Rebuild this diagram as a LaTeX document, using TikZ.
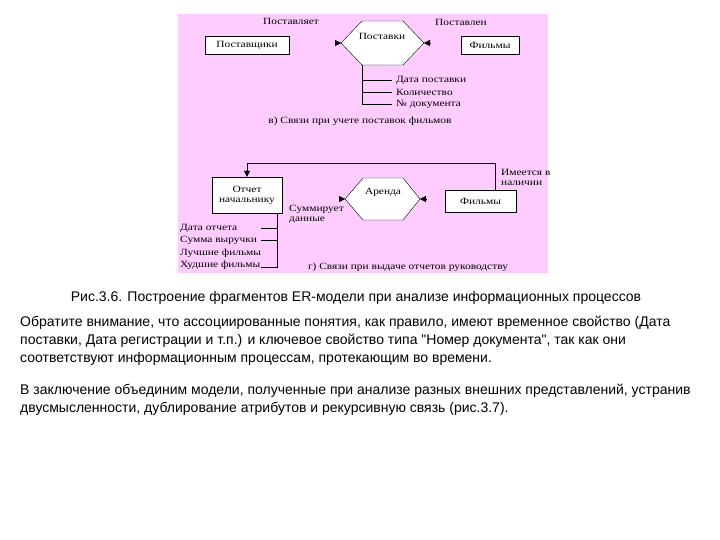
\documentclass[tikz,border=0pt]{standalone}
\usepackage{fontspec}
\setmainfont{Liberation Serif}
\newfontfamily\diafont[FakeStretch=1.2]{Liberation Serif}
\newfontfamily\bodyfont{Liberation Sans}
\definecolor{slidePink}{RGB}{255,204,255}
\usepackage{tikz}
\usetikzlibrary{arrows.meta,positioning,calc}

\begin{document}
\begin{tikzpicture}[x=1pt, y=-1pt,
        every node/.append style={font=\diafont\fontsize{9.5}{10}\selectfont, inner sep=0pt},
        entity/.style={draw, fill=white, align=center},
        lbl/.style={anchor=west, align=left},
        body/.style={anchor=west, font=\bodyfont\fontsize{14}{16}\selectfont},
        arr/.style={-{Triangle[length=6pt,width=6pt]}},
        line/.style={thin}
      ]
        \useasboundingbox (0,0) rectangle (720,540);
        % Pink picture area
        \fill[slidePink] (178,14) rectangle (548,273);

        % Fragment (v): supplies
        \node[entity, minimum width=84pt, minimum height=18pt] (sup) at (247,45) {Поставщики};
        \node[entity, minimum width=58pt, minimum height=18pt] (films1) at (490,45) {Фильмы};
        \coordinate (p1w) at (341,43);
        \coordinate (p1e) at (424,43);
        \coordinate (p1sw) at (362,65);
        \draw[line, fill=white] (p1w) -- (362,21) -- (403,21) -- (p1e) -- (403,65) -- (p1sw) -- cycle;
        \node (supply) at (382,36) {Поставки};
        \coordinate (p1wa) at (335,43);
        \coordinate (p1ea) at (430,43);
        \draw[arr] (p1wa) -- (p1w);
        \draw[arr] (p1ea) -- (p1e);
        \node (rel1) at (291,21) {Поставляет};
        \node (rel2) at (461,22) {Поставлен};
        % attributes of the supply
        \node[lbl] (a1) at (396,80) {Дата поставки};
        \node[lbl] (a2) at (396,92) {Количество};
        \node[lbl] (a3) at (396,104) {№ документа};
        \draw[line] (p1sw) |- ($(a3.west)+(-4,0)$);
        \draw[line] (p1sw |- a1) -- ($(a1.west)+(-4,0)$);
        \draw[line] (p1sw |- a2) -- ($(a2.west)+(-4,0)$);
        \node (capv) at (360,121) {в) Связи при учете поставок фильмов};

        % Fragment (g): reports
        \node[entity, minimum width=70pt, minimum height=36pt] (rep) at (247,195) {Отчет\\начальнику};
        \node[entity, minimum width=71pt, minimum height=22pt] (films2) at (480.5,201) {Фильмы};
        \coordinate (p2w) at (345,199);
        \coordinate (p2e) at (420,199);
        \draw[line, fill=white] (p2w) -- (363,178) -- (403,178) -- (p2e) -- (403,220) -- (363,220) -- cycle;
        \node (rent) at (383,192) {Аренда};
        \coordinate (p2wa) at (339,199);
        \coordinate (p2ea) at (426,199);
        \draw[arr] (p2wa) -- (p2w);
        \draw[arr] (p2ea) -- (p2e);
        \coordinate (turn) at (495,163);
        \draw[line, arr] (turn |- films2.north) -- (turn) -| (rep.north);
        \node[lbl] (rel3) at (501,177) {Имеется в\\наличии};
        \node[lbl] (rel4) at (289,214) {Суммирует\\данные};
        % attributes of the report
        \coordinate (rs) at (277,213);
        \node[lbl] (b1) at (180,228) {Дата отчета};
        \node[lbl] (b2) at (180,240) {Сумма выручки};
        \node[lbl] (b3) at (180,253) {Лучшие фильмы};
        \node[lbl] (b4) at (180,265) {Худшие фильмы};
        \draw[line] (rs) |- (261,267);
        \draw[line] (rs |- b1) -- (261,228);
        \draw[line] (rs |- b2) -- (261,240);
        \node (capg) at (408,267) {г) Связи при выдаче отчетов руководству};

        % Caption and text below
        \node[body, anchor=center] (fig) at (356,298) {Рис.3.6. Построение фрагментов ER-модели при анализе информационных процессов};
        \node[body] (t1) at (20,323) {Обратите внимание, что ассоциированные понятия, как правило, имеют временное свойство (Дата};
        \node[body] (t2) at (20,341) {поставки, Дата регистрации и т.п.) и ключевое свойство типа "Номер документа", так как они};
        \node[body] (t3) at (20,359) {соответствуют информационным процессам, протекающим во времени.};
        \node[body] (t4) at (20,391) {В заключение объединим модели, полученные при анализе разных внешних представлений, устранив};
        \node[body] (t5) at (20,409) {двусмысленности, дублирование атрибутов и рекурсивную связь (рис.3.7).};
      \end{tikzpicture}
\end{document}
